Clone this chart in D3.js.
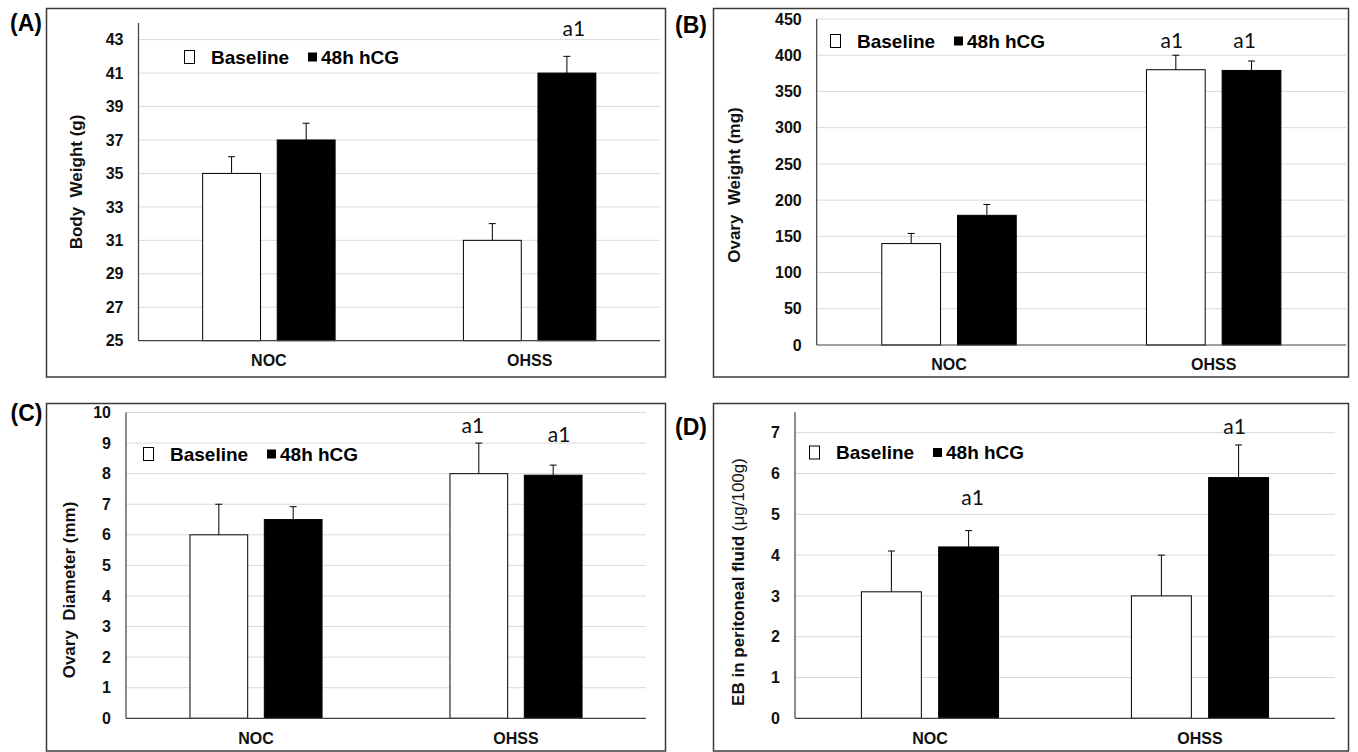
<!DOCTYPE html>
<html>
<head>
<meta charset="utf-8">
<script src="https://cdn.jsdelivr.net/npm/d3@7"></script>
<style>
  body { margin: 0; background: #fff; }
  svg { display: block; font-family: "Liberation Sans", Arial, sans-serif; }
</style>
</head>
<body>
<svg id="chart" width="1358" height="752"></svg>
<script>
// Categories and series
const groups = ['NOC', 'OHSS'];
const seriesNames = ['Baseline', '48h hCG'];

// (A) Body weight (g)
const bodyWeightBaseline = [35, 31];
const bodyWeightBaselineErr = [1, 1];
const bodyWeightHcg = [37, 41];
const bodyWeightHcgErr = [1, 1];
const bodyWeightTicks = [25, 27, 29, 31, 33, 35, 37, 39, 41, 43];
const bodyWeightMarks = [['', ''], ['', 'a1']];

// (B) Ovary weight (mg)
const ovaryWeightBaseline = [140, 380];
const ovaryWeightBaselineErr = [14, 20];
const ovaryWeightHcg = [179, 379];
const ovaryWeightHcgErr = [15, 13];
const ovaryWeightTicks = [0, 50, 100, 150, 200, 250, 300, 350, 400, 450];
const ovaryWeightMarks = [['', ''], ['a1', 'a1']];

// (C) Ovary diameter (mm)
const ovaryDiameterBaseline = [6, 8];
const ovaryDiameterBaselineErr = [1, 1];
const ovaryDiameterHcg = [6.5, 7.95];
const ovaryDiameterHcgErr = [0.42, 0.33];
const ovaryDiameterTicks = [0, 1, 2, 3, 4, 5, 6, 7, 8, 9, 10];
const ovaryDiameterMarks = [['', ''], ['a1', 'a1']];

// (D) EB in peritoneal fluid (ug/100g)
const ebBaseline = [3.1, 3.0];
const ebBaselineErr = [1.0, 1.0];
const ebHcg = [4.2, 5.9];
const ebHcgErr = [0.4, 0.8];
const ebTicks = [0, 1, 2, 3, 4, 5, 6, 7];
const ebMarks = [['', 'a1'], ['', 'a1']];

// Panel layout (positions only, values come from the arrays above)
const panels = [
    {
        tag: '(A)', tagX: 26, tagY: 23,
        frame: [46.5, 8.5, 665.5, 377],
        left: 138.5, right: 660, bottom: 340.7, top: 22.9, domain: [25, 44],
        ticks: bodyWeightTicks,
        title: 'Body  Weight (g)', titleX: 76, titleY: 182,
        legendX: 184, legendY: 57,
        values: [bodyWeightBaseline, bodyWeightHcg],
        errors: [bodyWeightBaselineErr, bodyWeightHcgErr],
        marks: bodyWeightMarks,
        markOffset: [[[0, 0], [0, 0]], [[0, 0], [7, 28]]]
    },
    {
        tag: '(B)', tagX: 691, tagY: 25,
        frame: [713.5, 8.5, 1348.5, 377],
        left: 816.7, right: 1346, bottom: 345, top: 19, domain: [0, 450],
        ticks: ovaryWeightTicks,
        title: 'Ovary  Weight (mg)', titleX: 734, titleY: 185,
        legendX: 830, legendY: 41,
        values: [ovaryWeightBaseline, ovaryWeightHcg],
        errors: [ovaryWeightBaselineErr, ovaryWeightHcgErr],
        marks: ovaryWeightMarks,
        markOffset: [[[0, 0], [0, 0]], [[-4, 15], [-7, 20]]]
    },
    {
        tag: '(C)', tagX: 26.5, tagY: 413,
        frame: [46.5, 403.5, 665.5, 751],
        left: 126, right: 646, bottom: 718.3, top: 412.5, domain: [0, 10],
        ticks: ovaryDiameterTicks,
        title: 'Ovary  Diameter (mm)', titleX: 69.4, titleY: 590,
        legendX: 143, legendY: 454,
        values: [ovaryDiameterBaseline, ovaryDiameterHcg],
        errors: [ovaryDiameterBaselineErr, ovaryDiameterHcgErr],
        marks: ovaryDiameterMarks,
        markOffset: [[[0, 0], [0, 0]], [[-6, 17], [6, 30]]]
    },
    {
        tag: '(D)', tagX: 691, tagY: 427,
        frame: [713.5, 403.5, 1348.5, 751],
        left: 795, right: 1335, bottom: 718.3, top: 412.3, domain: [0, 7.5],
        ticks: ebTicks,
        title: 'EB in peritoneal fluid', titleUnit: ' (\u03bcg/100g)', titleX: 738.5, titleY: 582,
        legendX: 809, legendY: 452.5,
        values: [ebBaseline, ebHcg],
        errors: [ebBaselineErr, ebHcgErr],
        marks: ebMarks,
        markOffset: [[[0, 0], [4, 33]], [[0, 0], [-4, 18]]]
    }
];

const svg = d3.select('#chart');

function drawPanel(p) {
    const g = svg.append('g');

    // Outer frame
    g.append('rect')
        .attr('x', p.frame[0]).attr('y', p.frame[1])
        .attr('width', p.frame[2] - p.frame[0])
        .attr('height', p.frame[3] - p.frame[1])
        .style('fill', 'none')
        .style('stroke', '#3a3a3a')
        .style('stroke-width', 1.5);

    // Panel tag
    g.append('text')
        .attr('x', p.tagX).attr('y', p.tagY)
        .attr('text-anchor', 'middle')
        .attr('dy', '0.35em')
        .style('font-size', '23px')
        .style('font-weight', 'bold')
        .text(p.tag);

    const x = d3.scaleBand().domain(groups).range([p.left, p.right]);
    const y = d3.scaleLinear().domain(p.domain).range([p.bottom, p.top]);
    const band = x.bandwidth();
    const barW = band * 0.222;
    const gap = band * 0.064;

    // Gridlines
    g.append('g')
        .selectAll('line')
        .data(p.ticks.filter(t => t !== p.domain[0]))
        .join('line')
        .attr('x1', p.left).attr('x2', p.right)
        .attr('y1', d => y(d)).attr('y2', d => y(d))
        .style('stroke', '#d9d9d9')
        .style('stroke-width', 1);

    // Y axis tick labels
    const yAxis = g.append('g')
        .attr('transform', `translate(${p.left},0)`)
        .call(d3.axisLeft(y).tickValues(p.ticks).tickSize(0).tickPadding(15));
    yAxis.select('.domain').remove();
    yAxis.selectAll('text')
        .style('font-size', '16px')
        .style('font-weight', 'bold')
        .style('fill', '#111')
        .style('font-family', '"Liberation Sans", Arial, sans-serif');

    // X axis labels
    const xAxis = g.append('g')
        .attr('transform', `translate(0,${p.bottom})`)
        .call(d3.axisBottom(x).tickSize(0).tickPadding(14));
    xAxis.select('.domain').remove();
    xAxis.selectAll('text')
        .style('font-size', '16px')
        .style('font-weight', 'bold')
        .style('fill', '#111')
        .style('font-family', '"Liberation Sans", Arial, sans-serif');

    // Bars
    const bars = [];
    groups.forEach((grp, gi) => {
        const cx = x(grp) + band / 2;
        p.values.forEach((vals, si) => {
            const bx = si === 0 ? cx - gap / 2 - barW : cx + gap / 2;
            bars.push({
                x: bx, w: barW, v: vals[gi], err: p.errors[si][gi], si,
                mark: p.marks[gi][si], off: p.markOffset[gi][si]
            });
        });
    });

    g.append('g')
        .selectAll('rect')
        .data(bars)
        .join('rect')
        .attr('x', d => d.x)
        .attr('y', d => y(d.v))
        .attr('width', d => d.w)
        .attr('height', d => p.bottom - y(d.v))
        .style('fill', d => d.si === 0 ? '#fff' : '#000')
        .style('stroke', '#000')
        .style('stroke-width', 1);

    // Error bars (upper only)
    const eg = g.append('g').style('stroke', '#000').style('stroke-width', 1);
    bars.forEach(d => {
        const cx = d.x + d.w / 2;
        eg.append('line')
            .attr('x1', cx).attr('x2', cx)
            .attr('y1', y(d.v)).attr('y2', y(d.v + d.err));
        eg.append('line')
            .attr('x1', cx - 3.5).attr('x2', cx + 3.5)
            .attr('y1', y(d.v + d.err)).attr('y2', y(d.v + d.err));
    });

    // Significance marks
    g.append('g')
        .selectAll('text')
        .data(bars.filter(d => d.mark))
        .join('text')
        .attr('x', d => d.x + d.w / 2 + d.off[0])
        .attr('y', d => y(d.v + d.err) - d.off[1])
        .attr('dy', '0.35em')
        .attr('text-anchor', 'middle')
        .style('font-family', 'Lato, "Open Sans", sans-serif')
        .style('font-size', '21px')
        .style('fill', '#111')
        .text(d => d.mark);

    // Axis lines
    g.append('line')
        .attr('x1', p.left).attr('x2', p.left)
        .attr('y1', y(p.domain[1])).attr('y2', p.bottom)
        .style('stroke', '#404040').style('stroke-width', 1.2);
    g.append('line')
        .attr('x1', p.left).attr('x2', p.right)
        .attr('y1', p.bottom).attr('y2', p.bottom)
        .style('stroke', '#404040').style('stroke-width', 1.2);

    // Y title
    const title = g.append('text')
        .attr('transform', `translate(${p.titleX},${p.titleY}) rotate(-90)`)
        .attr('text-anchor', 'middle')
        .attr('dy', '0.35em')
        .style('font-size', '17px')
        .style('font-weight', 'bold')
        .style('white-space', 'pre')
        .style('fill', '#111');
    title.append('tspan').text(p.title);
    if (p.titleUnit) {
        title.append('tspan').style('font-weight', 'normal').text(p.titleUnit);
    }

    // Legend
    const lg = g.append('g').attr('transform', `translate(${p.legendX},${p.legendY})`);
    lg.append('rect')
        .attr('x', 0.5).attr('y', -6.5).attr('width', 10).attr('height', 13)
        .style('fill', '#fff').style('stroke', '#000').style('stroke-width', 1);
    lg.append('text')
        .attr('x', 27).attr('dy', '0.35em')
        .style('font-size', '19px').style('font-weight', 'bold')
        .text(seriesNames[0]);
    lg.append('rect')
        .attr('x', 124).attr('y', -4.5).attr('width', 9).attr('height', 9)
        .style('fill', '#000');
    lg.append('text')
        .attr('x', 137).attr('dy', '0.35em')
        .style('font-size', '19px').style('font-weight', 'bold')
        .text(seriesNames[1]);
}

panels.forEach(drawPanel);
</script>
</body>
</html>
